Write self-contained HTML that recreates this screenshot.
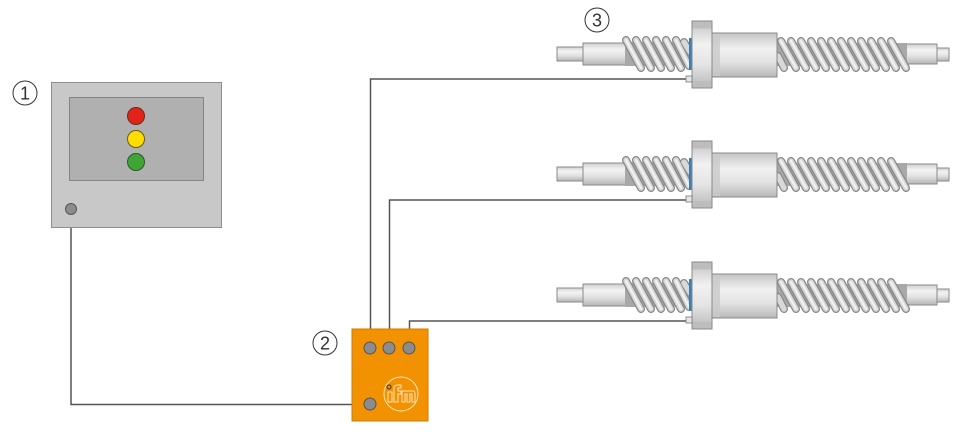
<!DOCTYPE html>
<html><head><meta charset="utf-8">
<style>
html,body{margin:0;padding:0;background:#fff;}
svg{display:block;}
text{font-family:"Liberation Sans",sans-serif;}
</style></head>
<body>
<svg width="960" height="434" viewBox="0 0 960 434" xmlns="http://www.w3.org/2000/svg">
<defs>
  <linearGradient id="sh" x1="0" y1="0" x2="0" y2="1">
    <stop offset="0" stop-color="#cfcfcf"/>
    <stop offset="0.3" stop-color="#f3f3f3"/>
    <stop offset="0.6" stop-color="#e2e2e2"/>
    <stop offset="1" stop-color="#b5b5b5"/>
  </linearGradient>
  <linearGradient id="nut" x1="0" y1="0" x2="0" y2="1">
    <stop offset="0" stop-color="#c4c4c4"/>
    <stop offset="0.35" stop-color="#f1f1f1"/>
    <stop offset="0.65" stop-color="#e4e4e4"/>
    <stop offset="1" stop-color="#b8b8b8"/>
  </linearGradient>
  <g id="screw">
    <rect x="557" y="47" width="27" height="14" fill="url(#sh)" stroke="#8a8a8a" stroke-width="1"/>
    <rect x="583" y="43" width="60" height="22" fill="url(#sh)" stroke="#8a8a8a" stroke-width="1"/>
    <rect x="900" y="44" width="37" height="20" fill="url(#sh)" stroke="#8a8a8a" stroke-width="1"/>
    <rect x="937" y="48" width="12" height="13" fill="url(#sh)" stroke="#8a8a8a" stroke-width="1"/>
    <rect x="625" y="42" width="67" height="24" fill="#a8a8a8"/>
    <rect x="777" y="43" width="130" height="23" fill="#a8a8a8"/>
    <g stroke-linecap="round">
      <g stroke="#888" stroke-width="8">
        <path d="M626 40 L641 68 M636 40 L651 68 M646 40 L661 68 M656 40 L671 68 M666 40 L681 68 M676 40 L689 66 M684 42 L690 52"/>
        <path d="M781 41 L796 68 M791 41 L806 68 M801 41 L816 68 M811 41 L826 68 M821 41 L836 68 M831 41 L846 68 M841 41 L856 68 M851 41 L866 68 M861 41 L876 68 M871 41 L886 68 M881 41 L896 68 M891 41 L906 68 M778 56 L784 68"/>
      </g>
      <g stroke="#d8d8d8" stroke-width="5.5">
        <path d="M626 40 L641 68 M636 40 L651 68 M646 40 L661 68 M656 40 L671 68 M666 40 L681 68 M676 40 L689 66 M684 42 L690 52"/>
        <path d="M781 41 L796 68 M791 41 L806 68 M801 41 L816 68 M811 41 L826 68 M821 41 L836 68 M831 41 L846 68 M841 41 L856 68 M851 41 L866 68 M861 41 L876 68 M871 41 L886 68 M881 41 L896 68 M891 41 L906 68 M778 56 L784 68"/>
      </g>
      <g stroke="#f2f2f2" stroke-width="2">
        <path d="M626 40 L641 68 M636 40 L651 68 M646 40 L661 68 M656 40 L671 68 M666 40 L681 68 M676 40 L689 66"/>
        <path d="M781 41 L796 68 M791 41 L806 68 M801 41 L816 68 M811 41 L826 68 M821 41 L836 68 M831 41 L846 68 M841 41 L856 68 M851 41 L866 68 M861 41 L876 68 M871 41 L886 68 M881 41 L896 68 M891 41 L906 68"/>
      </g>
    </g>
    <rect x="711" y="33" width="66" height="44" fill="url(#nut)" stroke="#8a8a8a" stroke-width="1"/>
    <rect x="712" y="34" width="8" height="42" fill="#c9c9c9" opacity="0.8"/>
    <rect x="689" y="38" width="3" height="32" fill="#3d7fb0"/>
    <rect x="692" y="21" width="20" height="67" fill="url(#nut)" stroke="#8a8a8a" stroke-width="1"/>
    <rect x="692.5" y="21.5" width="19" height="7" fill="#bdbdbd"/>
    <rect x="692.5" y="81" width="19" height="6.5" fill="#bdbdbd"/>
    <rect x="686" y="76" width="6" height="6" fill="#e6e6e6" stroke="#777" stroke-width="0.8"/>
  </g>
</defs>

<g fill="none" stroke="#555" stroke-width="1.5">
  <path d="M688 79 H370.5 V348"/>
  <path d="M688 200 H389.5 V348"/>
  <path d="M688 321 H409.5 V348"/>
  <path d="M71 209 V404.5 H370"/>
</g>

<use href="#screw"/>
<use href="#screw" transform="translate(0,120)"/>
<use href="#screw" transform="translate(0,241)"/>

<rect x="51.5" y="82.5" width="170" height="145" fill="#c8c8c8" stroke="#8e8e8e" stroke-width="1"/>
<rect x="69.5" y="97.5" width="134" height="83" fill="#b0b0b0" stroke="#848484" stroke-width="1"/>
<circle cx="136" cy="116" r="8.5" fill="#e2231a" stroke="#6a2a1a" stroke-width="1"/>
<circle cx="136" cy="139" r="8.5" fill="#ffdd00" stroke="#6a5a1a" stroke-width="1"/>
<circle cx="136" cy="162" r="8.5" fill="#3fa535" stroke="#2a5a2a" stroke-width="1"/>
<circle cx="71" cy="209" r="5.5" fill="#8c8c8c" stroke="#555" stroke-width="1"/>

<rect x="352" y="329" width="76" height="92" fill="#f39200" stroke="#d07a00" stroke-width="1"/>
<circle cx="370" cy="348" r="6" fill="#8c8c8c" stroke="#555" stroke-width="1"/>
<circle cx="389" cy="348" r="6" fill="#8c8c8c" stroke="#555" stroke-width="1"/>
<circle cx="409" cy="348" r="6" fill="#8c8c8c" stroke="#555" stroke-width="1"/>
<circle cx="370" cy="404" r="6" fill="#8c8c8c" stroke="#555" stroke-width="1"/>
<circle cx="401" cy="394" r="17" fill="none" stroke="#fde2b8" stroke-width="1"/>
<circle cx="389" cy="387" r="2" fill="none" stroke="#333" stroke-width="1"/>
<g fill="none" stroke="#fde2b8" stroke-width="1">
  <path d="M388 392 H392 V402 H388 Z"/>
  <path d="M394 402 V388 Q394 385 398 385 H401 V388 H398 V391 H401 V394 H398 V402 Z"/>
  <path d="M402 402 V391 H413 Q415 391 415 394 V402 H412 V394 H410 V402 H407 V394 H405 V402 Z"/>
</g>

<g fill="#fff" stroke="#333" stroke-width="1">
  <circle cx="25" cy="93" r="12"/>
  <circle cx="325" cy="343" r="12"/>
  <circle cx="597" cy="20" r="12"/>
</g>
<g font-size="18" fill="#333" text-anchor="middle">
  <text x="25" y="99.5">1</text>
  <text x="325" y="349.5">2</text>
  <text x="597" y="26.5">3</text>
</g>
</svg>
</body></html>
